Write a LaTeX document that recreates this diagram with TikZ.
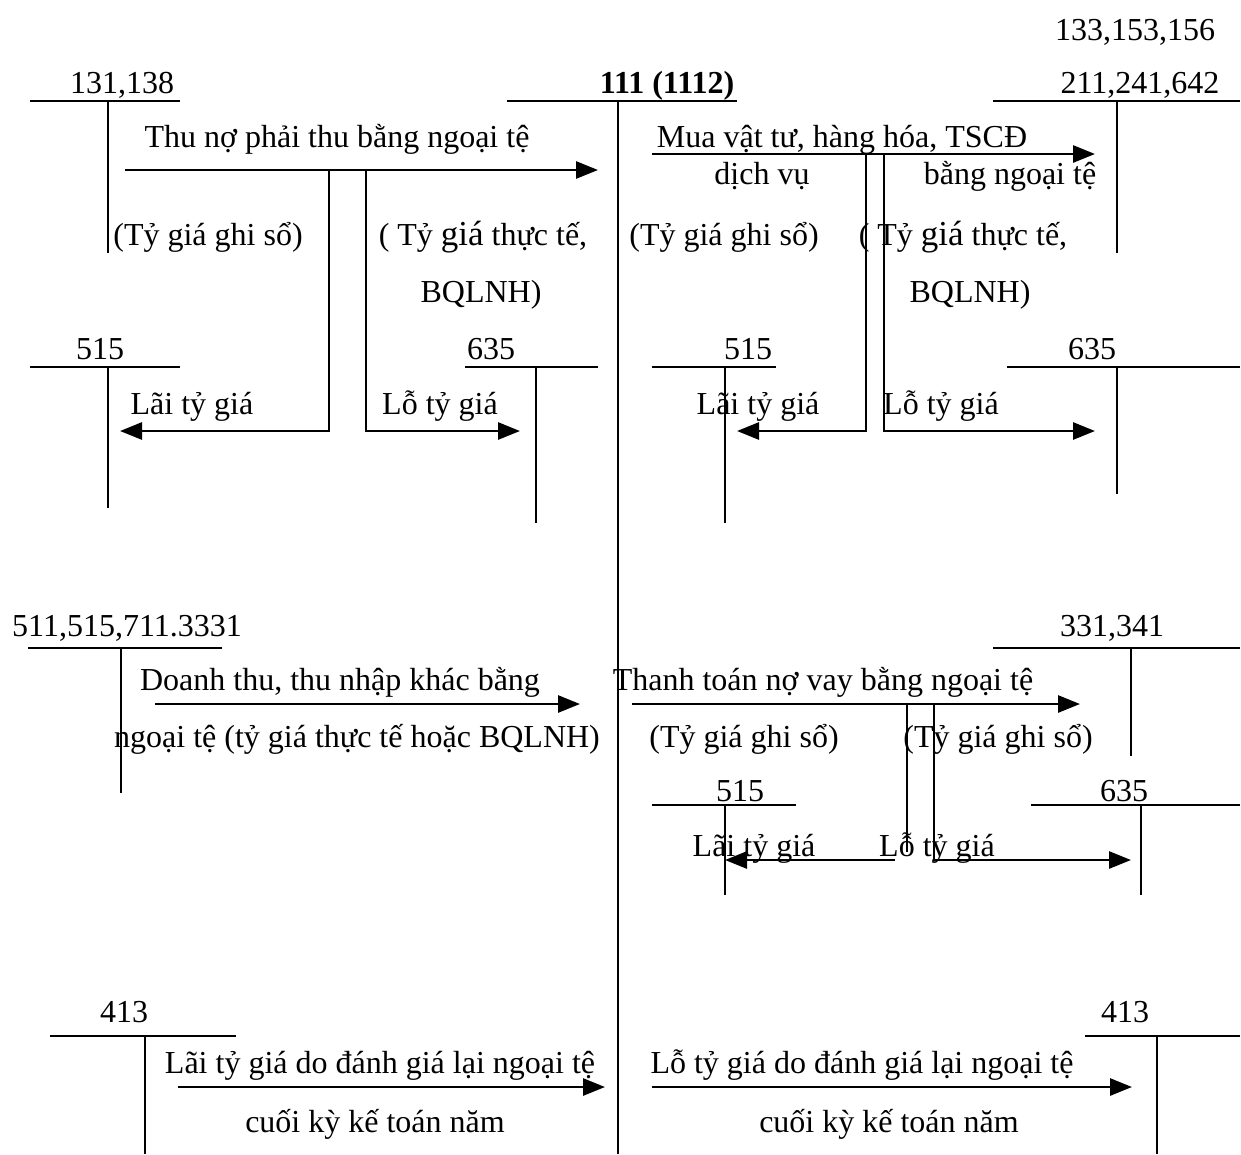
\documentclass[tikz,border=0pt]{standalone}
\usepackage{fontspec}
\setmainfont{Liberation Serif}
\usetikzlibrary{arrows.meta, positioning, calc}

\tikzset{
    tline/.style={line width=1.8pt},
    flow/.style={line width=2.8pt, -{Triangle[length=22pt,width=17pt]}},
    lbl/.style={inner sep=0pt, anchor=base},
}

\begin{document}
\begin{tikzpicture}[x=1pt, y=-1pt, font=\fontsize{32}{38}\selectfont]
\useasboundingbox (0,0) rectangle (1241,1154);

% account 111 (1112) in the middle
\node[lbl] (n111) at (667,93) {\textbf{111 (1112)}};
\coordinate (m1) at (507,101);
\coordinate (m2) at (737,101);
\coordinate (mt) at (618,101);
\coordinate (mb) at (618,1154);
\draw[tline] (m1) -- (m2);
\draw[tline] (mt) -- (mb);

% T accounts: left, right, top, bottom
\node[lbl] (n131) at (122,93) {131,138};
\draw[tline] (30,101) coordinate (a1) -- (180,101) coordinate (a2);
\draw[tline] (108,101) coordinate (at) -- (108,253) coordinate (ab);

\node[lbl] (n133) at (1135,40) {133,153,156};
\node[lbl] (n211) at (1140,93) {211,241,642};
\draw[tline] (993,101) coordinate (b1) -- (1240,101) coordinate (b2);
\draw[tline] (1117,101) coordinate (bt) -- (1117,253) coordinate (bb);

\node[lbl] (n515a) at (100,359) {515};
\draw[tline] (30,367) coordinate (c1) -- (180,367) coordinate (c2);
\draw[tline] (108,367) coordinate (ct) -- (108,508) coordinate (cb);

\node[lbl] (n635a) at (491,359) {635};
\draw[tline] (465,367) coordinate (d1) -- (598,367) coordinate (d2);
\draw[tline] (536,367) coordinate (dt) -- (536,523) coordinate (db);

\node[lbl] (n515b) at (748,359) {515};
\draw[tline] (652,367) coordinate (e1) -- (776,367) coordinate (e2);
\draw[tline] (725,367) coordinate (et) -- (725,523) coordinate (eb);

\node[lbl] (n635b) at (1092,359) {635};
\draw[tline] (1007,367) coordinate (f1) -- (1240,367) coordinate (f2);
\draw[tline] (1117,367) coordinate (ft) -- (1117,494) coordinate (fb);

\node[lbl] (n511) at (127,636) {511,515,711.3331};
\draw[tline] (28,648) coordinate (g1) -- (222,648) coordinate (g2);
\draw[tline] (121,648) coordinate (gt) -- (121,793) coordinate (gb);

\node[lbl] (n331) at (1112,636) {331,341};
\draw[tline] (993,648) coordinate (h1) -- (1240,648) coordinate (h2);
\draw[tline] (1131,648) coordinate (ht) -- (1131,756) coordinate (hb);

\node[lbl] (n515c) at (740,801) {515};
\draw[tline] (652,805) coordinate (i1) -- (796,805) coordinate (i2);
\draw[tline] (725,805) coordinate (it) -- (725,895) coordinate (ib);

\node[lbl] (n635c) at (1124,801) {635};
\draw[tline] (1031,805) coordinate (j1) -- (1240,805) coordinate (j2);
\draw[tline] (1141,805) coordinate (jt) -- (1141,895) coordinate (jb);

\node[lbl] (n413a) at (124,1022) {413};
\draw[tline] (50,1036) coordinate (k1) -- (236,1036) coordinate (k2);
\draw[tline] (145,1036) coordinate (kt) -- (145,1154) coordinate (kb);

\node[lbl] (n413b) at (1125,1022) {413};
\draw[tline] (1085,1036) coordinate (l1) -- (1240,1036) coordinate (l2);
\draw[tline] (1157,1036) coordinate (lt) -- (1157,1154) coordinate (lb);

% thu no phai thu
\coordinate (p1) at (125,170);
\coordinate (p2) at (598,170);
\draw[flow] (p1) -- (p2);
\node[lbl] (thu) at (337,147) {Thu nợ phải thu bằng ngoại tệ};
\node[lbl] (thu1) at (208,245) {(Tỷ giá ghi sổ)};
\node[lbl] (thu2) at (483,245) {( Tỷ {\fontsize{35}{38}\selectfont giá} thực tế,};
\node[lbl] (thu3) at (481,302) {BQLNH)};
\coordinate (pl) at (329,170);
\coordinate (pr) at (366,170);
\draw[flow] (pl) |- (120,431);
\draw[flow] (pr) |- (520,431);
\node[lbl] (lai1) at (192,414) {Lãi tỷ giá};
\node[lbl] (lo1) at (440,414) {Lỗ tỷ giá};

% mua vat tu
\coordinate (q1) at (652,154);
\coordinate (q2) at (1095,154);
\draw[flow] (q1) -- (q2);
\node[lbl] (mua) at (842,147) {Mua vật tư, hàng hóa, TSCĐ};
\node[lbl] (mua1) at (762,184) {dịch vụ};
\node[lbl] (mua2) at (1010,184) {bằng ngoại tệ};
\node[lbl] (mua3) at (724,245) {(Tỷ giá ghi sổ)};
\node[lbl] (mua4) at (963,245) {( Tỷ {\fontsize{35}{38}\selectfont giá} thực tế,};
\node[lbl] (mua5) at (970,302) {BQLNH)};
\coordinate (ql) at (866,154);
\coordinate (qr) at (884,154);
\draw[flow] (ql) |- (737,431);
\draw[flow] (qr) |- (1095,431);
\node[lbl] (lai2) at (758,414) {Lãi tỷ giá};
\node[lbl] (lo2) at (941,414) {Lỗ tỷ giá};

% doanh thu
\coordinate (r1) at (155,704);
\coordinate (r2) at (580,704);
\draw[flow] (r1) -- (r2);
\node[lbl] (dt1) at (340,690) {Doanh thu, thu nhập khác bằng};
\node[lbl] (dt2) at (357,747) {ngoại tệ (tỷ giá thực tế hoặc BQLNH)};

% thanh toan no vay
\coordinate (s1) at (632,704);
\coordinate (s2) at (1080,704);
\draw[flow] (s1) -- (s2);
\node[lbl] (tt) at (823,690) {Thanh toán nợ vay bằng ngoại tệ};
\node[lbl] (tt1) at (744,747) {(Tỷ giá ghi sổ)};
\node[lbl] (tt2) at (998,747) {(Tỷ giá ghi sổ)};
\coordinate (sl) at (907,704);
\coordinate (sr) at (934,704);
\draw[tline] (sl) -- (907,852);
\draw[flow] (895,860) coordinate (sa) -- (725,860);
\draw[flow] (sr) |- (1131,860);
\node[lbl] (lai3) at (754,856) {Lãi tỷ giá};
\node[lbl] (lo3) at (937,856) {Lỗ tỷ giá};

% danh gia lai cuoi ky
\coordinate (u1) at (178,1087);
\coordinate (u2) at (605,1087);
\draw[flow] (u1) -- (u2);
\node[lbl] (dg1) at (380,1073) {Lãi tỷ giá do đánh giá lại ngoại tệ};
\node[lbl] (dg2) at (375,1132) {cuối kỳ kế toán năm};
\coordinate (v1) at (652,1087);
\coordinate (v2) at (1132,1087);
\draw[flow] (v1) -- (v2);
\node[lbl] (dg3) at (862,1073) {Lỗ tỷ giá do đánh giá lại ngoại tệ};
\node[lbl] (dg4) at (889,1132) {cuối kỳ kế toán năm};
\end{tikzpicture}
\end{document}
